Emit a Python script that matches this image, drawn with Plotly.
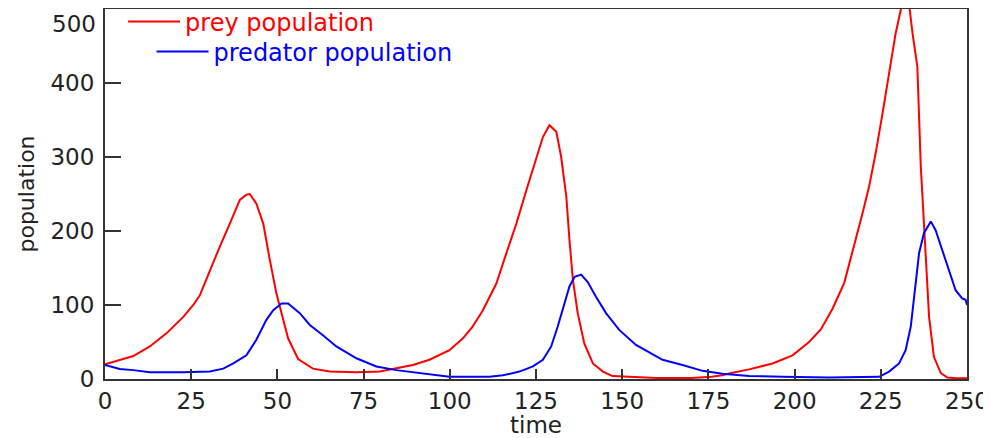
import plotly.graph_objects as go

# Values
prey_time = [0, 4, 8.2, 13, 17.9, 22.7, 25.6, 27.5, 30.4, 33.3, 36.2, 39.1, 41, 42, 43.9, 45.9, 47.8,
             49.7, 51.2, 53.1, 56, 60.3, 65.2, 72.9, 79.7, 83.5, 89.3, 94.1, 99.9, 103.8, 106.5,
             109.6, 113.5, 116.4, 119.3, 122.2, 125.1, 127, 128.9, 130.9, 132.3, 133.8, 134.7,
             135.7, 137.1, 139, 141.5, 144.4, 147.2, 152, 160, 170, 176, 179, 182, 186.8, 193.6,
             199.4, 204.2, 207.6, 211, 214.4, 217.8, 219.7, 221.6, 223.5, 225.5, 227.4, 229.3,
             230.8, 232, 233, 234.2, 235.6, 236.1, 236.6, 237.3, 238, 239, 240.4, 242.4, 244.3, 247, 250]
prey_values = [20, 25, 31, 44, 62, 84, 100, 113, 147, 179, 210, 242, 249, 250, 237, 210, 161,
               116, 89, 55, 27, 14, 10, 9, 10, 13.5, 19, 26, 39, 55, 70,
               93, 129, 170, 210, 255, 300, 327, 343, 334, 300, 246, 188,
               134, 89, 48, 21, 10, 4, 3, 1.5, 1.5, 3, 5, 8.5, 13, 21,
               32, 50, 67, 95, 130, 188, 224, 260, 305, 359, 413, 467,
               499, 520, 515, 467, 422, 354, 287, 228, 174, 84, 30, 8, 2, 1, 1]

predator_time = [0, 4.3, 8.2, 13, 22.7, 30.4, 34.3, 37.2, 41, 43.9, 46.8, 48.8, 51.2, 53.1, 56.5,
                 59.4, 63.2, 67.1, 72.9, 78.7, 84.5, 92.2, 99.9, 111.5, 115.4, 120.2, 124.1,
                 127, 129.4, 131.3, 133.3, 134.7, 136.2, 138.1, 140, 142.4, 145.3, 149.2, 154,
                 158.8, 161.7, 167.5, 173.3, 179.1, 186.8, 196.5, 210, 224.5, 227.4, 230.3,
                 232.2, 233.7, 235.1, 236.1, 237.5, 239.5, 240.9, 242.8, 244.8, 246.7, 248.6,
                 249.6, 250]
predator_values = [19, 13.5, 12, 9, 9, 10, 14, 21, 32, 53, 80, 93, 102, 102, 89,
                   73, 59, 44, 28, 17, 12, 7, 3, 3, 5, 10, 17,
                   26, 44, 71, 102, 125, 138, 141, 131, 111, 89, 66, 46,
                   33, 26, 19, 11, 7, 4, 3, 2, 3, 10, 21,
                   39, 71, 129, 170, 197, 213, 201, 174, 147, 120, 109,
                   107, 100]

x_ticks = [0, 25, 50, 75, 100, 125, 150, 175, 200, 225, 250]
y_ticks = [0, 100, 200, 300, 400, 500]
y_ticktext = ["0", "100", "200", "300", "400", ""]  # top label drawn below its tick, as in the reference
y_top_label = "500"

FONT = "DejaVu Sans"
FS = 23
LFS = 24
TXT = "#222222"

fig = go.Figure()
fig.add_trace(go.Scatter(x=prey_time, y=prey_values, mode="lines", name="prey population",
                         line=dict(color="#ff0000", width=2), legend="legend"))
fig.add_trace(go.Scatter(x=predator_time, y=predator_values, mode="lines", name="predator population",
                         line=dict(color="#0000ff", width=2), legend="legend2"))

# page body has an 8px margin, so the figure is a little smaller and margins compensate
fig.update_layout(
    width=983, height=430,
    margin=dict(l=97, r=24, t=1, b=59, autoexpand=False),
    paper_bgcolor="white", plot_bgcolor="white",
    font=dict(family=FONT, size=FS, color=TXT),
    legend=dict(x=0.021, y=1.026, xanchor="left", yanchor="top", bgcolor="rgba(0,0,0,0)",
                font=dict(family=FONT, size=LFS, color="#ff0000"), itemwidth=52,
                tracegroupgap=0, borderwidth=0),
    legend2=dict(x=0.054, y=0.945, xanchor="left", yanchor="top", bgcolor="rgba(0,0,0,0)",
                 font=dict(family=FONT, size=LFS, color="#0000ff"), itemwidth=52,
                 tracegroupgap=0, borderwidth=0),
    showlegend=True,
)
fig.add_annotation(x=0, xref="paper", y=y_ticks[-1], yref="y", text=y_top_label,
                   showarrow=False, xanchor="right", yanchor="middle", xshift=-7, yshift=-15,
                   font=dict(family=FONT, size=FS, color=TXT))
fig.update_xaxes(range=[0, 250], tickvals=x_ticks, ticktext=[str(v) for v in x_ticks],
                 ticks="inside", ticklen=10, tickwidth=2, tickcolor="#333333",
                 showline=True, linecolor="#333333", linewidth=2, mirror=True,
                 showgrid=False, zeroline=False, automargin=False,
                 title=dict(text="time", font=dict(size=FS, color=TXT), standoff=0),
                 tickfont=dict(size=FS, color=TXT))
fig.update_yaxes(range=[0, 500], tickvals=y_ticks, ticktext=y_ticktext,
                 ticks="inside", ticklen=16, tickwidth=2, tickcolor="#333333",
                 showline=True, linecolor="#333333", linewidth=2, mirror=True,
                 showgrid=False, zeroline=False, ticklabelstandoff=4, automargin=False,
                 title=dict(text="population", font=dict(size=FS - 1, color=TXT), standoff=10),
                 tickfont=dict(size=FS, color=TXT))

fig.write_html("out.html")
